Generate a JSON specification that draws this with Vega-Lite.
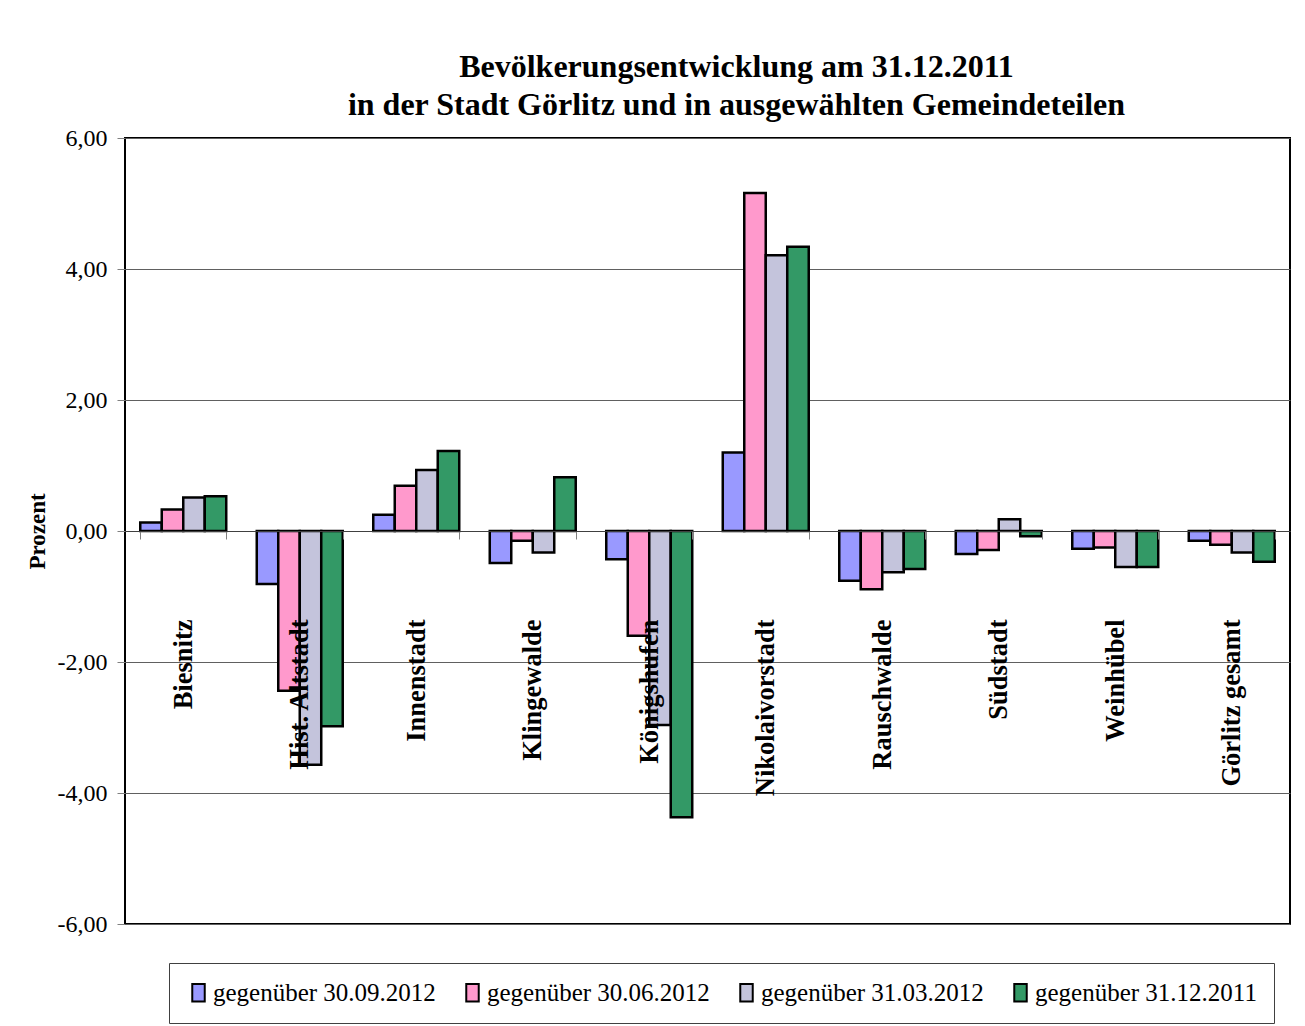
{
  "$schema": "https://vega.github.io/schema/vega-lite/v6.json",
  "width": 1165,
  "height": 786,
  "autosize": {"type": "none"},
  "padding": {"left": 125, "top": 138, "right": 15, "bottom": 102},
  "background": "white",
  "title": {
    "text": ["Bevölkerungsentwicklung am 31.12.2011", "in der Stadt Görlitz und in ausgewählten Gemeindeteilen"],
    "font": "Liberation Serif",
    "fontSize": 32,
    "fontWeight": "bold",
    "color": "black",
    "lineHeight": 38,
    "anchor": "middle",
    "dx": 29,
    "offset": 4
  },
  "config": {
    "view": {"stroke": "black", "strokeWidth": 2},
    "axis": {"labelFont": "Liberation Serif", "titleFont": "Liberation Serif", "labelColor": "black", "titleColor": "black"}
  },
  "data": {
    "values": [
      {"Gemeindeteil": "Biesnitz", "Vergleich": "gegenüber 30.09.2012", "Prozent": 0.13},
      {"Gemeindeteil": "Biesnitz", "Vergleich": "gegenüber 30.06.2012", "Prozent": 0.33},
      {"Gemeindeteil": "Biesnitz", "Vergleich": "gegenüber 31.03.2012", "Prozent": 0.51},
      {"Gemeindeteil": "Biesnitz", "Vergleich": "gegenüber 31.12.2011", "Prozent": 0.53},
      {"Gemeindeteil": "Hist. Altstadt", "Vergleich": "gegenüber 30.09.2012", "Prozent": -0.81},
      {"Gemeindeteil": "Hist. Altstadt", "Vergleich": "gegenüber 30.06.2012", "Prozent": -2.44},
      {"Gemeindeteil": "Hist. Altstadt", "Vergleich": "gegenüber 31.03.2012", "Prozent": -3.57},
      {"Gemeindeteil": "Hist. Altstadt", "Vergleich": "gegenüber 31.12.2011", "Prozent": -2.98},
      {"Gemeindeteil": "Innenstadt", "Vergleich": "gegenüber 30.09.2012", "Prozent": 0.25},
      {"Gemeindeteil": "Innenstadt", "Vergleich": "gegenüber 30.06.2012", "Prozent": 0.69},
      {"Gemeindeteil": "Innenstadt", "Vergleich": "gegenüber 31.03.2012", "Prozent": 0.93},
      {"Gemeindeteil": "Innenstadt", "Vergleich": "gegenüber 31.12.2011", "Prozent": 1.22},
      {"Gemeindeteil": "Klingewalde", "Vergleich": "gegenüber 30.09.2012", "Prozent": -0.49},
      {"Gemeindeteil": "Klingewalde", "Vergleich": "gegenüber 30.06.2012", "Prozent": -0.15},
      {"Gemeindeteil": "Klingewalde", "Vergleich": "gegenüber 31.03.2012", "Prozent": -0.33},
      {"Gemeindeteil": "Klingewalde", "Vergleich": "gegenüber 31.12.2011", "Prozent": 0.82},
      {"Gemeindeteil": "Königshufen", "Vergleich": "gegenüber 30.09.2012", "Prozent": -0.43},
      {"Gemeindeteil": "Königshufen", "Vergleich": "gegenüber 30.06.2012", "Prozent": -1.60},
      {"Gemeindeteil": "Königshufen", "Vergleich": "gegenüber 31.03.2012", "Prozent": -2.96},
      {"Gemeindeteil": "Königshufen", "Vergleich": "gegenüber 31.12.2011", "Prozent": -4.37},
      {"Gemeindeteil": "Nikolaivorstadt", "Vergleich": "gegenüber 30.09.2012", "Prozent": 1.20},
      {"Gemeindeteil": "Nikolaivorstadt", "Vergleich": "gegenüber 30.06.2012", "Prozent": 5.16},
      {"Gemeindeteil": "Nikolaivorstadt", "Vergleich": "gegenüber 31.03.2012", "Prozent": 4.21},
      {"Gemeindeteil": "Nikolaivorstadt", "Vergleich": "gegenüber 31.12.2011", "Prozent": 4.34},
      {"Gemeindeteil": "Rauschwalde", "Vergleich": "gegenüber 30.09.2012", "Prozent": -0.76},
      {"Gemeindeteil": "Rauschwalde", "Vergleich": "gegenüber 30.06.2012", "Prozent": -0.89},
      {"Gemeindeteil": "Rauschwalde", "Vergleich": "gegenüber 31.03.2012", "Prozent": -0.63},
      {"Gemeindeteil": "Rauschwalde", "Vergleich": "gegenüber 31.12.2011", "Prozent": -0.58},
      {"Gemeindeteil": "Südstadt", "Vergleich": "gegenüber 30.09.2012", "Prozent": -0.35},
      {"Gemeindeteil": "Südstadt", "Vergleich": "gegenüber 30.06.2012", "Prozent": -0.29},
      {"Gemeindeteil": "Südstadt", "Vergleich": "gegenüber 31.03.2012", "Prozent": 0.18},
      {"Gemeindeteil": "Südstadt", "Vergleich": "gegenüber 31.12.2011", "Prozent": -0.08},
      {"Gemeindeteil": "Weinhübel", "Vergleich": "gegenüber 30.09.2012", "Prozent": -0.27},
      {"Gemeindeteil": "Weinhübel", "Vergleich": "gegenüber 30.06.2012", "Prozent": -0.25},
      {"Gemeindeteil": "Weinhübel", "Vergleich": "gegenüber 31.03.2012", "Prozent": -0.55},
      {"Gemeindeteil": "Weinhübel", "Vergleich": "gegenüber 31.12.2011", "Prozent": -0.55},
      {"Gemeindeteil": "Görlitz gesamt", "Vergleich": "gegenüber 30.09.2012", "Prozent": -0.15},
      {"Gemeindeteil": "Görlitz gesamt", "Vergleich": "gegenüber 30.06.2012", "Prozent": -0.21},
      {"Gemeindeteil": "Görlitz gesamt", "Vergleich": "gegenüber 31.03.2012", "Prozent": -0.33},
      {"Gemeindeteil": "Görlitz gesamt", "Vergleich": "gegenüber 31.12.2011", "Prozent": -0.47}
    ]
  },
  "mark": {"type": "bar", "stroke": "black", "strokeWidth": 2.5, "strokeJoin": "miter"},
  "encoding": {
    "x": {
      "field": "Gemeindeteil",
      "type": "nominal",
      "sort": null,
      "scale": {"paddingInner": 0.262, "paddingOuter": 0.131},
      "axis": {
        "title": null,
        "orient": "bottom",
        "offset": -393,
        "zindex": 1,
        "domainColor": "#404040",
        "domainWidth": 1,
        "tickColor": "#808080",
        "tickSize": 8,
        "tickBand": "extent",
        "labelAngle": 270,
        "labelFontSize": 26.5,
        "labelFontWeight": "bold",
        "labelPadding": 80,
        "labelAlign": "right",
        "labelBaseline": "middle",
        "labelLimit": 400
      }
    },
    "xOffset": {"field": "Vergleich", "type": "nominal", "sort": null, "scale": {"paddingInner": 0, "paddingOuter": 0}},
    "y": {
      "field": "Prozent",
      "type": "quantitative",
      "scale": {"domain": [-6, 6], "nice": false, "zero": true},
      "axis": {
        "title": "Prozent",
        "titleFontSize": 23,
        "titleFontWeight": "bold",
        "titleX": -88,
        "titleY": 393,
        "titleAngle": 270,
        "titleAlign": "center",
        "titleBaseline": "middle",
        "values": [-6, -4, -2, 0, 2, 4, 6],
        "labelExpr": "replace(replace(format(datum.value, '.2f'), '.', ','), '\u2212', '-')",
        "labelFontSize": 24,
        "labelPadding": 10,
        "tickColor": "#808080",
        "tickSize": 8,
        "domain": false,
        "grid": true,
        "gridColor": "#606060",
        "gridWidth": 1
      }
    },
    "fill": {
      "field": "Vergleich",
      "type": "nominal",
      "sort": null,
      "scale": {
        "domain": ["gegenüber 30.09.2012", "gegenüber 30.06.2012", "gegenüber 31.03.2012", "gegenüber 31.12.2011"],
        "range": ["#9999FF", "#FF99CC", "#C4C4DC", "#339966"]
      },
      "legend": {
        "title": null,
        "orient": "none",
        "legendX": 44,
        "legendY": 825,
        "direction": "horizontal",
        "columns": 4,
        "columnPadding": 24,
        "padding": 17,
        "strokeColor": "#404040",
        "symbolType": "M-0.72,-1L0.72,-1L0.72,1L-0.72,1Z",
        "symbolSize": 300,
        "symbolStrokeColor": "black",
        "symbolStrokeWidth": 2,
        "labelFont": "Liberation Serif",
        "labelFontSize": 25,
        "labelColor": "black",
        "labelOffset": 2,
        "labelLimit": 400
      }
    }
  }
}
